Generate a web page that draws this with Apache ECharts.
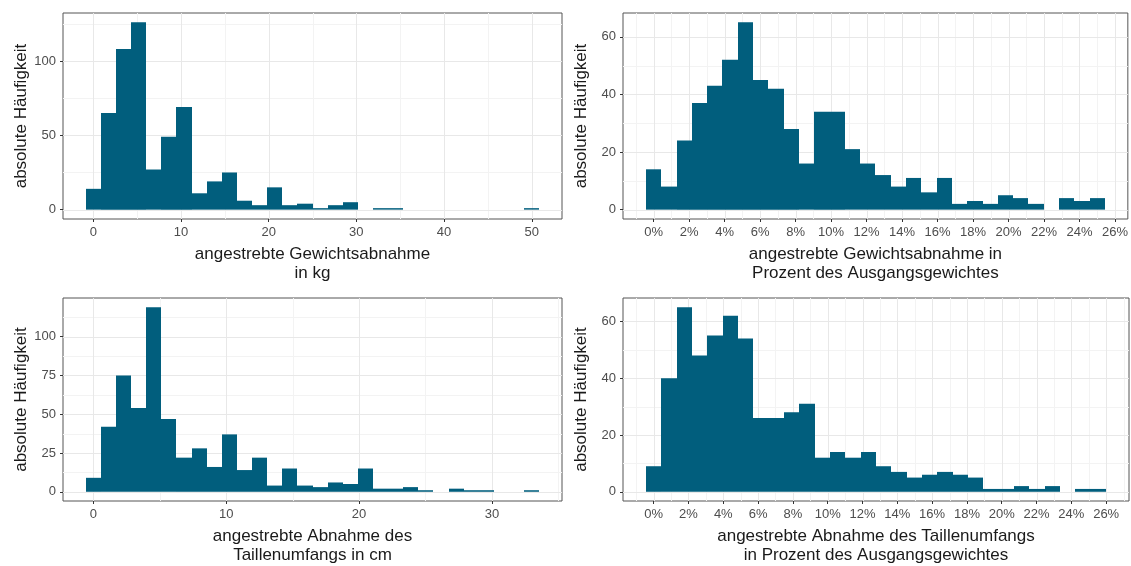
<!DOCTYPE html>
<html>
<head>
<meta charset="utf-8">
<script src="https://cdn.jsdelivr.net/npm/echarts@6/dist/echarts.min.js"></script>
<style>
  html, body { margin: 0; padding: 0; background: #ffffff; }
  #chart { width: 1131px; height: 566px; }
</style>
</head>
<body>
<div id="chart"></div>
<script>
// Counts per histogram bin (30 bins per panel)
const kgCounts  = [14, 65, 108, 126, 27, 49, 69, 11, 19, 25, 6, 3, 15, 3, 4, 1, 3, 5, 0, 1, 1, 0, 0, 0, 0, 0, 0, 0, 0, 1];
const pctWeightCounts = [14, 8, 24, 37, 43, 52, 65, 45, 42, 28, 16, 34, 34, 21, 16, 12, 8, 11, 6, 11, 2, 3, 2, 5, 4, 2, 0, 4, 3, 4];
const cmCounts  = [9, 42, 75, 54, 119, 47, 22, 28, 16, 37, 14, 22, 4, 15, 4, 3, 6, 5, 15, 2, 2, 3, 1, 0, 2, 1, 1, 0, 0, 1];
const pctWaistCounts = [9, 40, 65, 48, 55, 62, 54, 26, 26, 28, 31, 12, 14, 12, 14, 9, 7, 5, 6, 7, 6, 5, 1, 1, 2, 1, 2, 0, 1, 1];

// Bin layout: the first bin is centred on 0, range / 29 per bin
const kgBin        = { width: 50 / 29 };
const pctWeightBin = { width: 25 / 29 };
const cmBin        = { width: 33 / 29 };
const pctWaistBin  = { width: 25.55 / 29 };

// Tick values (major and minor grid)
const kgTicks = [0, 10, 20, 30, 40, 50];
const kgMinor = [5, 15, 25, 35, 45];
const cmTicks = [0, 10, 20, 30];
const cmMinor = [5, 15, 25, 35];
const pctTicks = [0, 2, 4, 6, 8, 10, 12, 14, 16, 18, 20, 22, 24, 26];
const pctMinor = [-1, 1, 3, 5, 7, 9, 11, 13, 15, 17, 19, 21, 23, 25, 27];
const countTicks50 = [0, 50, 100];
const countMinor50 = [25, 75, 125];
const countTicks20 = [0, 20, 40, 60];
const countMinor20 = [10, 30, 50];
const countTicks25 = [0, 25, 50, 75, 100];
const countMinor25 = [12.5, 37.5, 62.5, 87.5, 112.5];

const yTitle = 'absolute Häufigkeit';
const xTitles = [
  'angestrebte Gewichtsabnahme\nin kg',
  'angestrebte Gewichtsabnahme in\nProzent des Ausgangsgewichtes',
  'angestrebte Abnahme des\nTaillenumfangs in cm',
  'angestrebte Abnahme des Taillenumfangs\nin Prozent des Ausgangsgewichtes'
];

const BAR = '#015e7d';
const FONT = '"Liberation Sans", Arial, sans-serif';

const panels = [
  { counts: kgCounts, bin: kgBin, xt: kgTicks, xm: kgMinor, yt: countTicks50, ym: countMinor50, pct: false },
  { counts: pctWeightCounts, bin: pctWeightBin, xt: pctTicks, xm: pctMinor, yt: countTicks20, ym: countMinor20, pct: true },
  { counts: cmCounts, bin: cmBin, xt: cmTicks, xm: cmMinor, yt: countTicks25, ym: countMinor25, pct: false },
  { counts: pctWaistCounts, bin: pctWaistBin, xt: pctTicks, xm: pctMinor, yt: countTicks20, ym: countMinor20, pct: true }
];

const grids = [
  { left: 63,  top: 13,  width: 499, height: 206 },
  { left: 623, top: 13,  width: 506, height: 206 },
  { left: 63,  top: 298, width: 499, height: 208 },
  { left: 623, top: 298, width: 506, height: 208 }
];

const xAxes = [], yAxes = [], series = [];

panels.forEach((p, i) => {
  const w = p.bin.width;
  const start = -w / 2;
  const end = start + p.counts.length * w;
  const xPad = (end - start) * 0.05;
  const yMax = Math.max(...p.counts);
  const yPad = yMax * 0.05;
  const xMin = start - xPad, xMax = end + xPad;
  const yMin = -yPad, yTop = yMax + yPad;

  xAxes.push({
    type: 'value', gridIndex: i, min: xMin, max: xMax,
    splitLine: { show: false },
    axisLine: { show: false, onZero: false },
    axisTick: { show: true, customValues: p.xt, length: 3, lineStyle: { color: '#333333', width: 1 } },
    axisLabel: {
      customValues: p.xt, margin: 7, color: '#4d4d4d', fontSize: 13, fontFamily: FONT,
      formatter: p.pct ? (v) => v + '%' : (v) => String(v)
    },
    name: xTitles[i], nameLocation: 'middle', nameGap: 26,
    nameTextStyle: { color: '#1a1a1a', fontSize: 17, fontFamily: FONT, lineHeight: 19, verticalAlign: 'top' }
  });
  yAxes.push({
    type: 'value', gridIndex: i, min: yMin, max: yTop,
    splitLine: { show: false },
    axisLine: { show: false, onZero: false },
    axisTick: { show: true, customValues: p.yt, length: 3, lineStyle: { color: '#333333', width: 1 } },
    axisLabel: { customValues: p.yt, margin: 7, color: '#4d4d4d', fontSize: 13, fontFamily: FONT },
    name: yTitle, nameLocation: 'middle', nameGap: 33,
    nameTextStyle: { color: '#1a1a1a', fontSize: 17, fontFamily: FONT }
  });

  // grid lines: [value, horizontal?, minor?]
  const lines = [];
  p.xm.filter(v => v > xMin && v < xMax).forEach(v => lines.push([v, 0, 1]));
  p.ym.filter(v => v > yMin && v < yTop).forEach(v => lines.push([v, 1, 1]));
  p.xt.forEach(v => lines.push([v, 0, 0]));
  p.yt.forEach(v => lines.push([v, 1, 0]));

  series.push({
    type: 'custom', xAxisIndex: i, yAxisIndex: i, silent: true, z: 1,
    data: lines,
    encode: { x: 0 },
    renderItem: (params, api) => {
      const v = api.value(0);
      const horiz = api.value(1) === 1;
      const minor = api.value(2) === 1;
      const cs = params.coordSys;
      let shape;
      if (horiz) {
        const y = Math.round(api.coord([0, v])[1]) + 0.5;
        shape = { x1: cs.x, y1: y, x2: cs.x + cs.width, y2: y };
      } else {
        const x = Math.round(api.coord([v, 0])[0]) + 0.5;
        shape = { x1: x, y1: cs.y, x2: x, y2: cs.y + cs.height };
      }
      return { type: 'line', shape, style: { stroke: minor ? '#f3f3f3' : '#e8e8e8', lineWidth: 1 } };
    }
  });

  // histogram bars: [left edge, right edge, count]
  const bars = p.counts.map((c, k) => [start + k * w, start + (k + 1) * w, c]);
  series.push({
    type: 'custom', xAxisIndex: i, yAxisIndex: i, silent: true, z: 2,
    data: bars,
    encode: { x: [0, 1], y: 2 },
    renderItem: (params, api) => {
      const c = api.value(2);
      if (!c) return;
      const p0 = api.coord([api.value(0), c]);
      const p1 = api.coord([api.value(1), 0]);
      // snap horizontal edges to whole pixels so neighbouring bars join without seams
      const x0 = Math.round(p0[0]), x1 = Math.round(p1[0]);
      return {
        type: 'rect',
        shape: { x: x0, y: p0[1], width: x1 - x0, height: p1[1] - p0[1] },
        style: { fill: BAR }
      };
    }
  });
});

const chart = echarts.init(document.getElementById('chart'), null, { renderer: 'canvas' });
chart.setOption({
  animation: false,
  backgroundColor: '#ffffff',
  grid: grids.map(g => Object.assign({ show: true, borderColor: '#555555', borderWidth: 1, backgroundColor: 'transparent', containLabel: false }, g)),
  xAxis: xAxes,
  yAxis: yAxes,
  series: series
});
</script>
</body>
</html>
